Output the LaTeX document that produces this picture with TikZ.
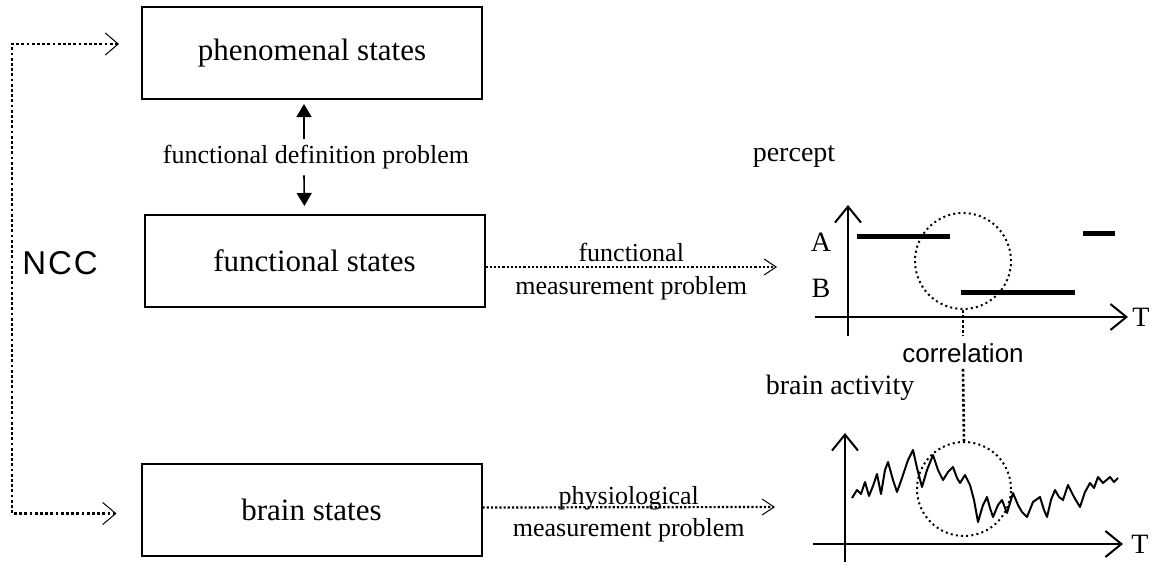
\documentclass[tikz,border=0pt]{standalone}
\usepackage{fontspec}
\setmainfont{Liberation Serif}
\setsansfont{Liberation Sans}
\usetikzlibrary{arrows.meta}

\begin{document}
\begin{tikzpicture}[x=0.5pt,y=-0.5pt,
    statebox/.style={draw,line width=1pt,minimum width=170pt,minimum height=46pt,
      font=\fontsize{15.5}{18}\selectfont},
    small/.style={font=\fontsize{13}{15}\selectfont},
    plotlabel/.style={font=\fontsize{14}{16}\selectfont},
    dotarrow/.style={line width=1.1pt,dash pattern=on 1.1pt off 1pt,
      -{Straight Barb[length=6pt,width=8pt,line width=0.5pt]}},
    nccline/.style={line width=1.4pt,dash pattern=on 1.4pt off 1.2pt,
      {Straight Barb[length=6.5pt,width=11pt,line width=0.5pt]}-{Straight Barb[length=6.5pt,width=11pt,line width=0.5pt]}},
    defarrow/.style={line width=0.8pt,-{Triangle[length=6.5pt,width=7.5pt]}},
    axis/.style={line width=1pt,-{Straight Barb[length=8pt,width=13pt,line width=1pt]}},
    dotcirc/.style={circle,draw,line width=1pt,dash pattern=on 1pt off 1.6pt,inner sep=0pt},
    corrline/.style={line width=1.3pt,dash pattern=on 1.3pt off 1.2pt}]
  \useasboundingbox (0,0) rectangle (1158,562);

  % left column
  \node[statebox] (phen) at (312,53) {phenomenal states};
  \node[statebox] (func) at (314.5,261) {functional states};
  \node[statebox] (brain) at (311.5,509.5) {brain states};
  \node[small,inner ysep=3pt] (fdp) at (316,157) {functional definition problem};
  \draw[defarrow,shorten >=2pt] ([xshift=-6pt]fdp.north) -- ([xshift=-4pt]phen.south);
  \draw[defarrow,shorten >=4pt] ([xshift=-6pt]fdp.south) -- ([xshift=-5pt]func.north);

  % NCC loop
  \node[font=\sffamily\fontsize{16.5}{18}\selectfont] (ncc) at (60,263) {N\kern1ptC\kern1ptC};
  \draw[nccline] ([xshift=-11pt,yshift=4.5pt]phen.west) -| (12,300)
    |- ([xshift=-12pt,yshift=-2pt]brain.west);

  % measurement arrows
  \coordinate (percin) at (777,267);
  \coordinate (brainin) at (775,507);
  \draw[dotarrow] ([yshift=-3pt]func.east) -- (percin)
    node[midway,above,small,inner sep=2pt] {functional}
    node[midway,below,small,inner sep=4pt] {measurement problem};
  \draw[dotarrow] ([yshift=1pt]brain.east) -- (brainin)
    node[midway,anchor=base,small,yshift=1.5pt] {physiological}
    node[midway,below,small,inner sep=5pt] {measurement problem};

  % percept plot
  \node[plotlabel] (percept) at (794,157) {percept};
  \draw[axis] (848,336) -- (848,205);
  \draw[axis] (815,317) -- (1128,317);
  \node[plotlabel] at (821,242) {A};
  \node[plotlabel] at (821,288) {B};
  \node[plotlabel] at (1141,317) {T};
  \draw[line width=2.5pt] (857,236) -- (950,236);
  \draw[line width=2.5pt] (1083,233) -- (1115,233);
  \draw[line width=2.5pt] (961,292) -- (1075,292);
  \node[dotcirc,minimum size=48pt] (pcirc) at (963,261) {};

  % correlation
  \node[font=\sffamily\fontsize{13}{15}\selectfont,inner sep=3pt] (corr) at (963,353) {correlation};
  \node[dotcirc,minimum size=47pt] (bcirc) at (964,489) {};
  \draw[corrline,shorten >=1pt] (pcirc.south) -- (corr.north);
  \draw[corrline] (corr.south) -- (bcirc.north);

  % brain activity plot
  \node[plotlabel] (bact) at (840,388) {brain activity};
  \draw[axis] (845,562) -- (845,433);
  \draw[axis] (813,544) -- (1123,544);
  \node[plotlabel] at (1140,544) {T};
  \draw[line width=1pt,line join=round] plot coordinates {
    (852,498) (857,490) (861,494) (865,482) (869,496) (873,486) (877,474)
    (881,494) (885,470) (888,462) (893,480) (897,492) (902,478) (908,460)
    (913,450) (917,468) (922,487) (927,470) (933,455) (938,470) (943,480)
    (948,472) (953,467) (957,478) (960,483) (965,475) (970,485) (974,500)
    (978,522) (983,505) (987,497) (990,508) (993,517) (998,505) (1002,500)
    (1007,513) (1013,493) (1018,505) (1022,512) (1027,517) (1033,502)
    (1040,497) (1044,510) (1047,517) (1051,500) (1055,490) (1059,497)
    (1063,500) (1068,485) (1074,497) (1080,507) (1085,492) (1090,483)
    (1094,488) (1098,477) (1103,483) (1110,477) (1114,482) (1118,478)};
\end{tikzpicture}
\end{document}
